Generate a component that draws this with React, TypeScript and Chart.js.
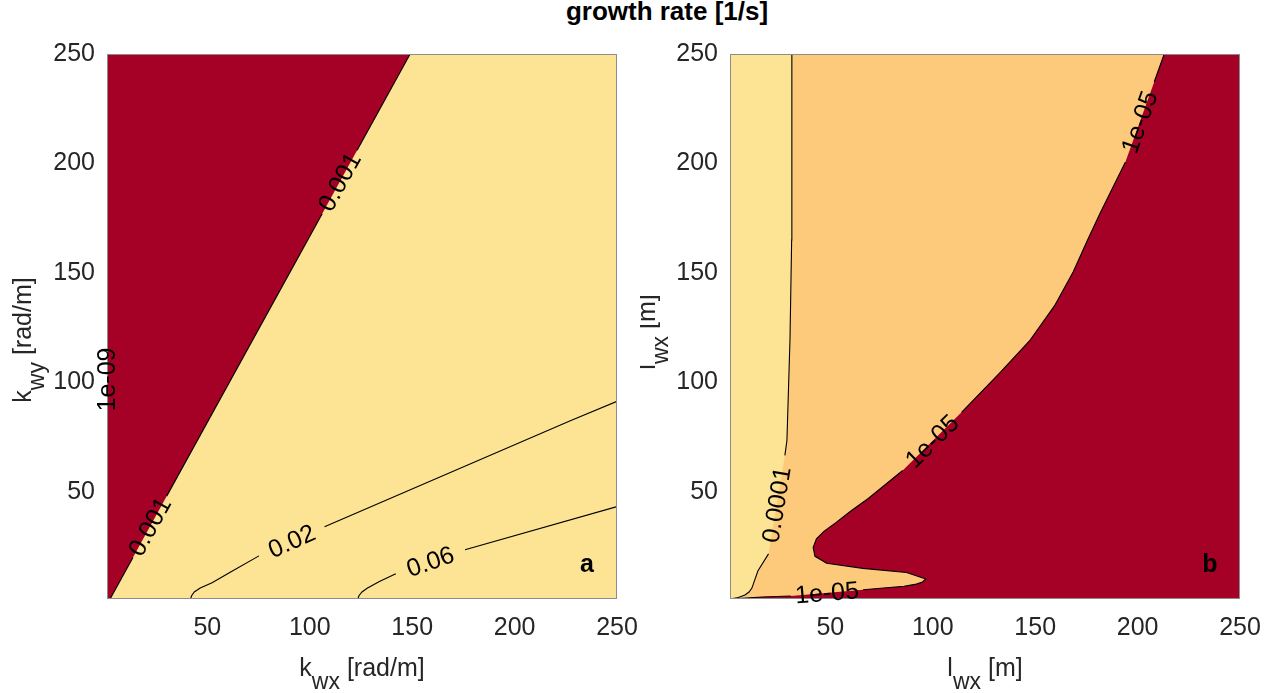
import React, { useEffect, useRef } from "react";
import { Chart, registerables } from "chart.js";

Chart.register(...registerables);

type Pt = [number, number];

// ---------- axes ----------
const AXIS_MIN = 1;
const AXIS_MAX = 250;
const TICK_VALUES = [50, 100, 150, 200, 250];

// ---------- colours ----------
const RED = "#A50026";
const YELLOW = "#FDE394";
const ORANGE = "#FDCA7B";

// ---------- panel a : k_wx / k_wy ----------
const A_DOMAIN: Pt[] = [[1, 1], [250, 1], [250, 250], [1, 250]];
const A_RED_REGION: Pt[] = [[1, 1], [2.5, 1], [149, 250], [1, 250]];
const A_LINE_1E09: Pt[][] = [
  [[1, 42.6], [1, 84]],
  [[1, 118.6], [1, 250]],
];
const A_LINE_0001: Pt[][] = [
  [[2.5, 1], [13.68, 20]],
  [[30.15, 48], [106.06, 177]],
  [[123.12, 206], [149, 250]],
];
const A_LINE_002: Pt[][] = [
  [[41.8, 1], [42.3, 2.5], [43.6, 4.2], [46.5, 6], [52.3, 8.4], [62, 13.7], [75.2, 20.7]],
  [[107.2, 34], [227.5, 82.6], [250, 91.3]],
];
const A_LINE_006: Pt[][] = [
  [[123.5, 1], [124, 2.5], [125.5, 4.2], [128, 5.9], [134, 9], [142, 12.5]],
  [[175.8, 23.5], [250, 43.2]],
];
const A_LABELS_1E09 = ["1e-09"];
const A_LABELS_0001 = ["0.001", "0.001"];
const A_LABELS_002 = ["0.02"];
const A_LABELS_006 = ["0.06"];

// ---------- panel b : l_wx / l_wx ----------
const B_DOMAIN: Pt[] = [[1, 1], [250, 1], [250, 250], [1, 250]];
const B_LINE_0001: Pt[][] = [
  [[1, 1], [4.4, 1.5], [8.3, 2.8], [10.3, 4.2], [11.7, 6], [14.6, 13.8], [19.8, 21.6]],
  [[27.8, 66.6], [28.8, 73.5], [30.3, 120], [31.1, 165], [31.2, 250]],
];
const B_LINE_1E05: Pt[][] = [
  [[1, 1], [16.6, 1.9], [30.7, 2.4]],
  [
    [66, 5.2], [86, 6.8], [92, 7.8], [95, 8.8], [96.6, 10.2], [87.2, 13.1], [65.9, 15.0],
    [48.2, 17.3], [42.5, 20.5], [41.6, 24.5], [43.2, 28.5], [47, 32], [52.7, 35.9],
    [60, 41.2], [68.5, 46.9], [85.3, 59.7],
  ],
  [
    [114.05, 86.3], [132.6, 104.2], [147.2, 118.9], [159.4, 134.9], [168.6, 150.5],
    [175.4, 164.7], [181.8, 177.5], [194, 200.5],
  ],
  [[208.1, 237.2], [213, 250]],
];
const B_LABELS_0001 = ["0.0001"];
const B_LABELS_1E05 = ["1e-05", "1e-05", "1e-05"];
const B_CORNERS_RIGHT: Pt[] = [[250, 250], [250, 1]];

// ---------- fonts ----------
const FAMILY = '"Liberation Sans", Arial, Helvetica, sans-serif';
const TEXT_COLOR = "#262626";

interface Region { pts: Pt[]; color: string }
interface Contour { segments: Pt[][]; labels: string[] }
interface AxisText { main: string; sub: string; rest: string }

interface PanelProps {
  left: number;
  width: number;
  yAxisWidth: number;
  padRight: number;
  regions: Region[];
  contours: Contour[];
  xLabel: AxisText;
  yLabel: AxisText;
  yLabelBaseline: number;
  yLabelCenter: number;
  tag: string;
}

const HEIGHT = 693;
const TOP = 54;
const X_AXIS_HEIGHT = 94;

function toXY(pts: Pt[]) {
  return pts.map(([x, y]) => ({ x, y }));
}

function drawSubText(ctx: CanvasRenderingContext2D, t: AxisText) {
  const mainFont = `25px ${FAMILY}`;
  const subFont = `23px ${FAMILY}`;
  ctx.font = mainFont;
  const w1 = ctx.measureText(t.main).width;
  const w3 = ctx.measureText(t.rest).width;
  ctx.font = subFont;
  const w2 = ctx.measureText(t.sub).width;
  const start = -(w1 + w2 + w3) / 2;
  ctx.textAlign = "left";
  ctx.textBaseline = "alphabetic";
  ctx.fillStyle = TEXT_COLOR;
  ctx.font = mainFont;
  ctx.fillText(t.main, start, 0);
  ctx.font = subFont;
  ctx.fillText(t.sub, start + w1, 13);
  ctx.font = mainFont;
  ctx.fillText(t.rest, start + w1 + w2, 0);
}

function ContourPanel(p: PanelProps) {
  const ref = useRef<HTMLCanvasElement | null>(null);

  useEffect(() => {
    const canvas = ref.current;
    if (!canvas) return;

    const datasets: any[] = [];
    p.regions.forEach((r, i) => {
      datasets.push({
        data: toXY(r.pts),
        backgroundColor: r.color,
        borderColor: "transparent",
        borderWidth: 0,
        pointRadius: 0,
        fill: "shape",
        tension: 0,
        order: 100 - i,
      });
    });
    p.contours.forEach((c) => {
      c.segments.forEach((seg) => {
        datasets.push({
          data: toXY(seg),
          borderColor: "#000000",
          borderWidth: 1.1,
          pointRadius: 0,
          fill: false,
          tension: 0,
          order: 1,
        });
      });
    });

    const overlay = {
      id: "overlay",
      afterDatasetsDraw(chart: any) {
        const ctx: CanvasRenderingContext2D = chart.ctx;
        const xs = chart.scales.x;
        const ys = chart.scales.y;
        const area = chart.chartArea;
        // box
        ctx.save();
        ctx.strokeStyle = "#8c8c8c";
        ctx.lineWidth = 1;
        ctx.strokeRect(area.left + 0.5, area.top + 0.5, area.right - area.left - 1, area.bottom - area.top - 1);
        ctx.restore();
        // contour labels sit in the gaps of each contour
        ctx.save();
        ctx.font = `25px ${FAMILY}`;
        ctx.fillStyle = "#000000";
        ctx.textAlign = "center";
        ctx.textBaseline = "middle";
        p.contours.forEach((c) => {
          for (let g = 0; g < c.labels.length; g++) {
            const a = c.segments[g][c.segments[g].length - 1];
            const b = c.segments[g + 1][0];
            const ax = xs.getPixelForValue(a[0]);
            const ay = ys.getPixelForValue(a[1]);
            const bx = xs.getPixelForValue(b[0]);
            const by = ys.getPixelForValue(b[1]);
            let ang = Math.atan2(by - ay, bx - ax);
            if (ang > Math.PI / 2) ang -= Math.PI;
            if (ang < -Math.PI / 2) ang += Math.PI;
            ctx.save();
            ctx.translate((ax + bx) / 2, (ay + by) / 2);
            ctx.rotate(ang);
            ctx.fillText(c.labels[g], 0, 1);
            ctx.restore();
          }
        });
        // panel tag
        ctx.font = `bold 25px ${FAMILY}`;
        ctx.fillText(p.tag, area.right - 30, area.bottom - 34);
        ctx.restore();
      },
      afterDraw(chart: any) {
        const ctx: CanvasRenderingContext2D = chart.ctx;
        const area = chart.chartArea;
        ctx.save();
        ctx.translate((area.left + area.right) / 2, 676);
        drawSubText(ctx, p.xLabel);
        ctx.restore();
        ctx.save();
        ctx.translate(p.yLabelBaseline, p.yLabelCenter);
        ctx.rotate(-Math.PI / 2);
        drawSubText(ctx, p.yLabel);
        ctx.restore();
      },
    };

    const tickFont = { family: FAMILY, size: 25 };
    const chart = new Chart(canvas, {
      type: "line",
      data: { datasets },
      options: {
        animation: false,
        responsive: false,
        events: [],
        layout: { padding: { left: 0, top: TOP, right: p.padRight, bottom: 0 } },
        plugins: {
          legend: { display: false },
          tooltip: { enabled: false },
          title: { display: false },
        },
        scales: {
          x: {
            type: "linear",
            min: AXIS_MIN,
            max: AXIS_MAX,
            grid: { display: false, drawTicks: false },
            border: { display: false },
            ticks: { padding: 14, color: TEXT_COLOR, font: tickFont, maxRotation: 0, autoSkip: false },
            afterBuildTicks: (s: any) => {
              s.ticks = TICK_VALUES.map((v) => ({ value: v }));
            },
            afterFit: (s: any) => {
              s.height = X_AXIS_HEIGHT;
              s.paddingLeft = 0;
              s.paddingRight = 0;
            },
          },
          y: {
            type: "linear",
            min: AXIS_MIN,
            max: AXIS_MAX,
            grid: { display: false, drawTicks: false },
            border: { display: false },
            ticks: { padding: 12, color: TEXT_COLOR, font: tickFont, autoSkip: false },
            afterBuildTicks: (s: any) => {
              s.ticks = TICK_VALUES.map((v) => ({ value: v }));
            },
            afterFit: (s: any) => {
              s.width = p.yAxisWidth;
              s.paddingTop = 0;
              s.paddingBottom = 0;
            },
          },
        },
      } as any,
      plugins: [overlay],
    });
    return () => chart.destroy();
  }, []);

  return (
    <div style={{ position: "absolute", left: p.left, top: 0, width: p.width, height: HEIGHT }}>
      <canvas ref={ref} width={p.width} height={HEIGHT} style={{ display: "block" }} />
    </div>
  );
}

export default function App() {
  const panelA: Contour[] = [
    { segments: A_LINE_1E09, labels: A_LABELS_1E09 },
    { segments: A_LINE_0001, labels: A_LABELS_0001 },
    { segments: A_LINE_002, labels: A_LABELS_002 },
    { segments: A_LINE_006, labels: A_LABELS_006 },
  ];
  const panelB: Contour[] = [
    { segments: B_LINE_0001, labels: B_LABELS_0001 },
    { segments: B_LINE_1E05, labels: B_LABELS_1E05 },
  ];
  const bOrange: Pt[] = [...B_LINE_0001.flat(), ...B_CORNERS_RIGHT];
  const bRed: Pt[] = [...B_LINE_1E05.flat(), ...B_CORNERS_RIGHT];

  return (
    <div style={{ position: "absolute", left: 0, top: 0, width: 1282, height: HEIGHT, background: "#ffffff", overflow: "hidden" }}>
      <div
        style={{
          position: "absolute",
          left: 467,
          top: -2,
          width: 400,
          textAlign: "center",
          font: `bold 26px ${FAMILY}`,
          lineHeight: "26px",
          color: "#000000",
        }}
      >
        growth rate [1/s]
      </div>
      <ContourPanel
        left={0}
        width={640}
        yAxisWidth={107}
        padRight={23}
        regions={[
          { pts: A_DOMAIN, color: YELLOW },
          { pts: A_RED_REGION, color: RED },
        ]}
        contours={panelA}
        xLabel={{ main: "k", sub: "wx", rest: " [rad/m]" }}
        yLabel={{ main: "k", sub: "wy", rest: " [rad/m]" }}
        yLabelBaseline={31}
        yLabelCenter={340}
        tag="a"
      />
      <ContourPanel
        left={640}
        width={642}
        yAxisWidth={90}
        padRight={42}
        regions={[
          { pts: B_DOMAIN, color: YELLOW },
          { pts: bOrange, color: ORANGE },
          { pts: bRed, color: RED },
        ]}
        contours={panelB}
        xLabel={{ main: "l", sub: "wx", rest: " [m]" }}
        yLabel={{ main: "l", sub: "wx", rest: " [m]" }}
        yLabelBaseline={15}
        yLabelCenter={332}
        tag="b"
      />
    </div>
  );
}
